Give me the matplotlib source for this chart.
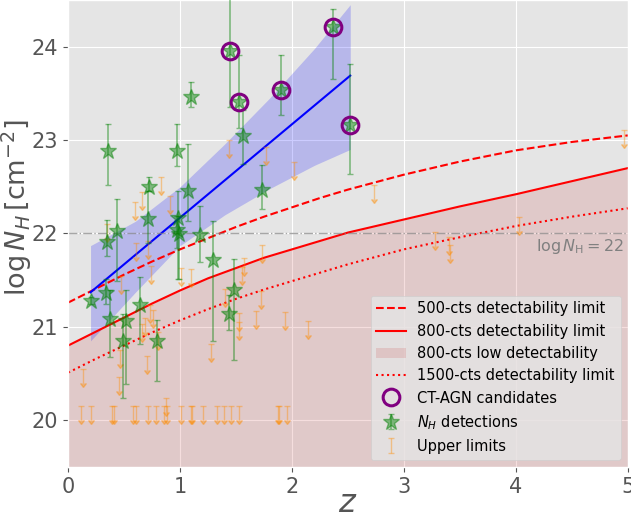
import numpy as np
import matplotlib.pyplot as plt

plt.style.use('ggplot')

# N_H detections: redshift, log NH, lower / upper errors
z_det = [0.20, 0.34, 0.35, 0.36, 0.37, 0.44, 0.49, 0.52, 0.64, 0.71, 0.72, 0.79,
         0.97, 0.98, 0.97, 0.99, 1.07, 1.10, 1.18, 1.29, 1.44, 1.45, 1.48, 1.53,
         1.56, 1.73, 1.90, 2.37, 2.52]
nh_det = [21.28, 21.36, 21.91, 22.88, 21.08, 22.03, 20.85, 21.06, 21.23, 22.16, 22.50, 20.85,
          22.88, 22.17, 22.04, 21.99, 22.46, 23.46, 21.98, 21.72, 21.14, 23.95, 21.39, 23.41,
          23.04, 22.47, 23.54, 24.21, 23.16]
err_lo = [0.04, 0.12, 0.15, 0.36, 0.40, 0.54, 0.61, 0.67, 0.41, 0.26, 0.05, 0.43,
          0.16, 0.66, 0.20, 0.48, 0.33, 0.11, 0.29, 0.87, 0.17, 0.60, 0.74, 0.28,
          0.30, 0.21, 0.27, 0.56, 0.52]
err_hi = [0.04, 0.15, 0.23, 0.29, 0.31, 0.34, 0.29, 0.33, 0.30, 0.29, 0.10, 0.22,
          0.29, 0.28, 0.15, 0.20, 0.50, 0.16, 0.31, 0.41, 0.20, 0.65, 0.34, 0.50,
          0.28, 0.26, 0.37, 0.19, 0.66]

# CT-AGN candidates
z_ct = [1.45, 1.53, 1.90, 2.37, 2.52]
nh_ct = [23.95, 23.41, 23.54, 24.21, 23.16]

# upper limits
z_ul = [0.116, 0.203, 0.39, 0.41, 0.583, 0.607, 0.717, 0.783, 0.857, 0.881, 1.006,
        1.098, 1.11, 1.203, 1.328, 1.396, 1.453, 1.53, 1.878, 1.887, 1.958, 0.87,
        0.83, 0.663, 0.60, 0.908, 0.35, 0.61, 0.71, 0.744, 0.47, 1.01, 1.10,
        0.73, 0.76, 0.66, 0.69, 0.80, 0.467, 0.708, 0.134, 0.455,
        1.73, 1.574, 1.55, 1.40, 1.72, 2.02, 1.77, 1.44, 1.53, 1.53, 1.675,
        1.94, 2.14, 1.277, 2.73, 3.28, 3.40, 3.41, 4.03, 4.97]
nh_ul = [20.15, 20.15, 20.15, 20.15, 20.15, 20.15, 20.15, 20.15, 20.15, 20.15, 20.15,
         20.15, 20.15, 20.15, 20.15, 20.15, 20.15, 20.15, 20.15, 20.15, 20.15, 20.24,
         22.60, 22.44, 22.34, 22.40, 22.10, 21.90, 21.92, 21.65, 21.54, 21.63, 21.62,
         21.23, 21.18, 21.03, 21.09, 20.95, 20.75, 20.69, 20.55, 20.46,
         21.88, 21.74, 21.64, 21.41, 21.38, 22.77, 22.93, 23.00, 21.15, 21.05, 21.17,
         21.16, 21.06, 20.82, 22.52, 22.02, 21.96, 21.88, 22.18, 23.11]

# detectability limits
z_lim = [0, 0.25, 0.5, 0.75, 1.0, 1.25, 1.5, 1.75, 2.0, 2.25, 2.5, 2.75, 3.0, 3.5, 4.0, 4.5, 5.0]
lim500 = [21.26, 21.41, 21.56, 21.70, 21.83, 21.95, 22.07, 22.18, 22.28, 22.38, 22.47,
          22.55, 22.63, 22.77, 22.89, 22.98, 23.05]
lim800 = [20.80, 20.95, 21.10, 21.25, 21.39, 21.52, 21.63, 21.74, 21.83, 21.92, 22.01,
          22.08, 22.15, 22.29, 22.42, 22.56, 22.70]
lim1500 = [20.51, 20.66, 20.80, 20.94, 21.07, 21.19, 21.30, 21.40, 21.49, 21.58, 21.67,
           21.75, 21.83, 21.96, 22.08, 22.18, 22.27]

# linear fit and its confidence band
z_fit = [0.2, 0.6, 1.0, 1.4, 1.8, 2.2, 2.52]
fit_mid = [21.37, 21.77, 22.17, 22.57, 22.97, 23.37, 23.69]
fit_hi = [21.87, 22.13, 22.50, 22.96, 23.45, 23.98, 24.45]
fit_lo = [20.85, 21.37, 21.87, 22.20, 22.48, 22.73, 22.90]

fig = plt.figure(figsize=(6.31, 5.2), dpi=100)
ax = fig.add_axes([0.108, 0.102, 0.887, 0.898])

ax.plot(z_lim, lim500, color='red', ls='--', lw=1.5, label='500-cts detectability limit')
ax.plot(z_lim, lim800, color='red', ls='-', lw=1.5, label='800-cts detectability limit')
ax.fill_between(z_lim, 19.5, lim800, color='indianred', alpha=0.2, lw=0,
                label='800-cts low detectability')
ax.plot(z_lim, lim1500, color='red', ls=':', lw=1.5, label='1500-cts detectability limit')

ax.fill_between(z_fit, fit_lo, fit_hi, color='blue', alpha=0.2, lw=0)
ax.plot(z_fit, fit_mid, color='blue', lw=1.5)

ax.axhline(22, color='grey', ls='-.', lw=1, alpha=0.7)
ax.text(4.97, 21.96, r'$\log N_{\rm H} = 22$', ha='right', va='top',
        color='grey', fontsize=11.5)

ax.plot(z_ct, nh_ct, 'o', ms=12, mfc='none', mec='purple', mew=2.2,
        label='CT-AGN candidates', zorder=5)
ax.errorbar(z_det, nh_det, yerr=[err_lo, err_hi], fmt='*', ms=12, color='green',
            alpha=0.45, capsize=2, elinewidth=1.2, label=r'$N_H$ detections', zorder=4)
ax.errorbar(z_ul, nh_ul, yerr=0.15, uplims=True, fmt='none', color='darkorange',
            alpha=0.4, capsize=2, elinewidth=1.0, label='Upper limits', zorder=3)

ax.set_xlim(0, 5)
ax.set_ylim(19.5, 24.5)
ax.set_xticks([0, 1, 2, 3, 4, 5])
ax.set_yticks([20, 21, 22, 23, 24])
ax.tick_params(labelsize=15)
ax.set_xlabel(r'$z$', fontsize=23)
ax.set_ylabel(r'$\log N_H\,[\rm cm^{-2}]$', fontsize=19.5)
ax.xaxis.set_label_coords(0.5, -0.045)
ax.yaxis.set_label_coords(-0.061, 0.555)

ax.legend(loc='lower right', fontsize=10.5)

fig.savefig('out.png', dpi=100)
